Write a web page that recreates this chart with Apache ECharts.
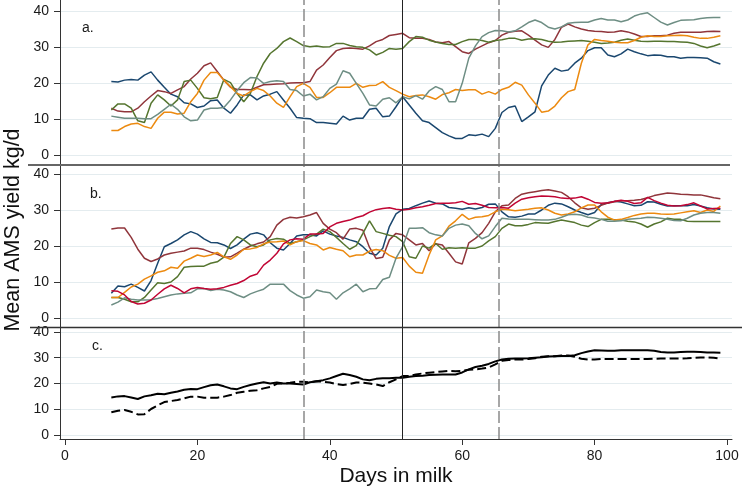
<!DOCTYPE html>
<html><head><meta charset="utf-8">
<script src="https://cdn.jsdelivr.net/npm/echarts@6/dist/echarts.min.js"></script>
<style>html,body{margin:0;padding:0;background:#fff}#c{width:744px;height:490px}</style>
</head><body><div id="c"></div>
<script>
const days = [7,8,9,10,11,12,13,14,15,16,17,18,19,20,21,22,23,24,25,26,27,28,29,30,31,32,33,34,35,36,37,38,39,40,41,42,43,44,45,46,47,48,49,50,51,52,53,54,55,56,57,58,59,60,61,62,63,64,65,66,67,68,69,70,71,72,73,74,75,76,77,78,79,80,81,82,83,84,85,86,87,88,89,90,91,92,93,94,95,96,97,98,99];
const xTickValues = [0,20,40,60,80,100];
const yTickValues = [0,10,20,30,40];
const panelLabels = ['a.','b.','c.'];
const vLinesDashed = [36, 65.5];
const vLineSolid = [51];
const xTitle = 'Days in milk';
const yTitle = 'Mean AMS yield kg/d';

// Panel a
const aNavy = [20.4,20.3,20.8,21.0,20.8,22.2,23.1,20.8,18.8,16.9,
16.2,14.5,14.2,13.2,13.6,15.1,15.3,13.0,11.6,13.9,
16.7,16.7,15.3,16.4,16.9,17.6,15.3,13.0,10.4,10.2,
10.1,9.0,9.0,8.8,8.6,10.8,9.7,10.2,10.2,12.7,
13.0,10.6,10.8,13.4,16.2,13.9,11.6,9.5,9.0,7.6,
6.2,5.3,4.6,4.6,5.6,5.4,5.8,5.1,7.4,11.8,
13.2,13.6,9.3,10.6,12.0,19.2,22.2,24.1,23.3,23.6,
25.5,26.9,29.0,29.8,29.8,27.8,27.3,28.1,29.4,28.7,
28.1,27.6,27.8,27.7,27.3,27.3,26.9,27.1,27.1,27.0,
26.9,25.9,25.3];
const aMaroon = [13.0,12.2,12.0,12.0,13.0,14.8,16.4,17.9,17.6,17.1,
18.1,19.0,21.1,22.7,24.8,25.6,23.2,20.8,18.8,18.2,
18.2,18.1,18.8,19.5,19.6,19.7,19.8,20.0,20.1,20.1,
20.4,23.6,25.0,27.1,29.0,29.6,29.7,29.6,29.4,30.3,
31.5,32.1,33.2,33.5,33.8,32.6,32.4,32.4,32.1,31.4,
31.2,31.5,30.1,28.7,28.2,29.4,30.3,31.2,31.8,33.3,
34.1,34.4,34.5,33.3,31.9,30.6,29.9,32.1,35.5,36.4,
35.6,35.0,34.6,34.4,34.3,34.1,34.2,34.5,34.2,33.6,
32.9,32.9,33.1,33.1,33.3,33.8,34.1,34.1,34.1,34.1,
34.3,34.4,34.3];
const aGreen = [12.5,14.2,14.2,13.0,9.5,9.0,14.4,16.7,15.3,13.6,
15.3,20.4,20.8,18.5,15.9,15.6,16.0,21.0,20.1,17.1,
14.8,17.1,21.8,25.5,28.2,29.6,31.5,32.5,31.5,30.4,
30.1,30.3,30.0,30.1,31.0,31.0,30.4,30.1,29.9,29.2,
27.8,28.5,29.6,29.4,29.6,31.5,32.9,32.7,31.9,31.4,
31.0,30.7,30.7,31.5,32.1,32.1,31.8,31.3,31.8,32.0,
32.4,32.4,31.9,32.2,32.3,32.1,31.6,31.3,31.4,31.6,
31.7,31.8,31.6,31.3,31.0,31.1,31.3,31.9,32.2,31.9,
31.6,31.5,31.6,31.6,31.5,31.5,31.4,31.3,31.0,30.3,
29.8,30.3,30.9];
const aOrange = [6.8,6.8,7.9,8.6,8.8,7.9,7.4,10.2,11.9,11.9,
11.4,11.6,14.8,17.1,20.8,22.9,22.9,20.8,19.0,17.1,
16.4,17.6,18.5,17.9,16.4,14.4,13.2,16.2,19.0,19.9,
18.8,16.0,16.0,17.3,18.8,18.8,18.8,19.9,18.8,19.3,
19.4,20.4,18.8,17.9,16.9,16.2,16.5,16.7,16.2,15.5,
16.8,17.3,18.2,17.9,18.1,18.1,16.9,17.6,16.9,18.2,
18.8,20.2,19.4,16.7,14.4,11.9,12.2,13.6,15.9,17.6,
18.2,25.5,30.6,32.1,31.8,31.6,31.3,31.2,31.2,31.8,
32.7,33.1,32.9,32.9,33.1,33.2,33.3,33.1,32.7,32.4,
32.4,32.7,33.1];
const aTeal = [10.8,10.5,10.2,10.2,10.2,10.1,10.1,11.3,12.7,14.1,
12.7,10.6,9.5,9.7,12.5,13.0,13.0,13.2,15.3,17.9,
20.1,21.5,21.4,19.9,20.4,20.6,20.4,18.2,17.9,16.4,
16.9,15.3,16.2,18.5,19.7,23.4,22.7,19.9,17.1,13.9,
13.6,15.5,15.9,14.5,16.2,15.6,16.5,15.5,17.8,19.0,
18.2,14.8,14.8,19.9,26.9,30.3,32.9,34.0,34.6,34.5,
34.2,34.5,35.6,36.8,37.5,36.8,35.5,35.0,35.6,36.6,
36.8,36.9,36.9,37.5,37.9,37.5,37.5,37.0,37.5,38.6,
39.2,39.5,38.2,36.9,36.1,36.8,37.4,37.5,37.6,37.9,
38.1,38.2,38.2];

// Panel b
const bNavy = [6.9,8.9,8.7,9.4,8.5,7.5,10.4,15.2,19.8,20.7,
21.7,23.1,24.0,23.3,22.0,21.0,20.9,20.3,19.3,20.3,
21.9,23.3,23.7,23.1,20.9,19.4,18.9,20.7,22.8,23.1,
23.1,22.8,24.2,23.3,22.8,22.4,21.7,21.2,19.8,18.0,
17.5,19.4,25.4,28.9,30.2,30.4,31.2,31.9,32.5,31.9,
31.7,30.7,30.5,30.2,30.6,30.3,30.7,31.6,31.7,29.5,
28.1,28.0,28.3,28.9,28.9,30.0,31.3,31.9,31.7,30.9,
30.0,29.3,28.7,29.3,31.5,32.0,32.4,32.2,31.7,31.2,
31.3,32.3,32.2,31.6,31.1,31.2,31.2,31.2,31.5,31.1,
30.6,30.3,30.2];
const bMaroon = [24.7,25.0,25.0,22.4,19.1,16.6,15.7,16.4,17.5,18.0,
18.3,18.6,19.4,19.4,19.0,18.3,17.7,16.9,17.0,18.0,
19.1,20.0,20.6,21.1,22.6,25.8,27.4,28.0,27.8,28.1,
28.6,29.3,26.3,24.7,23.7,21.9,24.7,24.9,24.4,19.6,
16.5,16.9,21.7,23.5,23.1,21.7,20.3,20.7,18.7,20.6,
20.3,18.0,15.6,15.0,20.9,22.1,23.7,26.3,29.5,31.2,
31.4,33.2,34.4,34.8,35.1,35.4,35.6,35.3,34.9,33.7,
32.0,30.6,30.2,30.5,31.3,31.9,32.3,32.6,32.6,32.7,
32.9,33.4,34.0,34.4,34.7,34.6,34.4,34.3,34.2,34.2,
33.8,33.4,33.1];
const bGreen = [5.7,5.7,5.2,4.5,4.5,5.7,7.8,9.8,9.6,10.0,
11.5,14.1,14.3,14.4,14.4,15.2,15.6,16.9,20.7,22.6,
21.7,20.3,19.8,20.3,21.7,22.1,21.9,20.7,21.2,21.7,
22.6,23.3,24.7,24.0,22.4,20.7,19.1,20.1,23.5,27.0,
24.0,23.5,23.0,22.6,21.2,17.0,16.6,20.0,19.4,20.7,
19.1,19.5,19.4,19.5,19.4,19.4,20.0,21.4,22.6,24.9,
26.1,25.6,25.6,26.0,26.5,26.4,26.3,26.8,27.2,26.9,
26.5,25.8,25.4,26.5,27.4,27.4,27.3,27.2,26.9,26.7,
26.1,25.2,26.1,26.7,27.7,27.4,27.4,26.9,26.8,26.8,
26.8,26.8,26.8];
const bOrange = [5.7,5.7,7.1,8.6,9.4,10.8,11.7,12.7,13.1,14.1,
13.8,15.8,16.6,17.5,17.1,17.5,18.2,17.0,16.3,17.5,
19.1,19.2,19.6,20.6,21.1,21.2,21.4,20.3,21.2,21.5,
20.7,20.3,18.9,19.6,19.1,18.7,17.0,17.5,17.5,18.6,
19.0,18.7,17.4,16.6,16.8,14.4,12.7,12.4,17.5,21.7,
22.8,25.5,27.0,28.8,27.4,28.0,28.1,28.5,29.5,30.2,
30.1,29.8,30.0,30.2,30.5,30.6,30.0,29.1,28.6,28.9,
29.5,30.6,31.4,31.4,29.5,28.0,27.2,27.4,27.9,28.5,
28.9,29.1,29.1,28.9,28.8,28.9,29.2,29.5,29.8,29.3,
30.0,29.6,31.1];
const bTeal = [3.6,4.4,5.6,5.2,5.0,5.0,5.1,5.4,5.9,6.4,
6.7,6.9,7.0,8.1,8.2,7.6,8.0,7.8,7.3,6.4,
5.7,6.7,7.4,8.0,9.4,9.4,9.4,7.6,6.4,5.5,
5.9,7.8,7.3,7.0,5.2,7.0,8.1,9.4,7.3,8.1,
8.2,10.7,11.3,16.6,19.8,24.9,24.9,25.1,23.7,23.1,
22.8,24.9,25.8,26.1,25.6,23.5,22.0,22.8,25.4,27.7,
27.5,27.4,27.4,27.4,27.3,27.2,27.2,27.4,28.0,28.7,
28.8,28.6,28.0,27.8,27.4,26.9,26.9,27.0,27.4,27.6,
27.7,28.0,27.9,27.7,27.4,27.1,27.0,27.7,28.6,29.1,
29.3,29.3,29.1];
const bCranberry = [7.6,7.4,6.4,4.6,3.9,4.1,5.0,6.6,8.1,9.1,
8.2,7.0,8.1,8.5,8.2,8.0,8.1,8.5,9.1,9.6,
10.4,11.6,12.2,14.7,16.1,18.0,20.6,21.7,22.0,21.9,
23.3,23.3,23.5,25.3,26.3,26.8,27.2,27.9,28.4,29.4,
30.1,30.4,30.6,30.2,30.0,30.2,30.6,30.9,31.3,31.8,
31.9,31.9,32.0,32.4,31.6,31.8,31.3,30.7,30.6,30.7,
30.5,31.9,33.0,33.4,33.7,33.9,33.8,33.7,33.3,33.2,
33.3,33.7,33.0,32.1,31.9,32.0,32.4,32.7,32.4,31.8,
32.0,33.5,32.6,31.9,31.3,31.1,31.2,31.5,32.0,31.1,
30.3,30.4,30.5];

// Panel c
const cSolid = [14.6,15.0,15.1,14.6,14.0,15.0,15.4,16.0,15.8,16.4,
16.9,17.6,17.9,17.8,18.6,19.3,19.6,18.9,18.1,17.8,
18.7,19.4,20.0,20.5,20.0,20.4,20.0,20.0,19.8,19.6,
20.5,20.9,21.3,22.0,22.9,23.8,23.3,22.6,21.6,21.3,
21.8,22.0,22.0,22.2,22.2,22.6,22.9,23.0,23.3,23.4,
23.5,23.5,23.5,24.3,25.5,26.4,26.9,27.6,28.6,29.3,
29.6,29.7,29.7,29.8,30.0,30.2,30.5,30.6,30.7,30.7,
31.0,31.8,32.4,32.9,32.8,32.7,32.7,32.9,32.9,32.9,
32.9,32.9,32.7,32.2,32.0,32.0,32.2,32.3,32.3,32.2,
32.0,32.0,31.9];
const cDashed = [8.8,9.4,9.7,9.0,8.0,8.1,10.1,11.5,12.8,13.2,
13.6,14.2,14.9,14.9,14.5,14.5,14.5,14.9,15.5,16.4,
16.8,17.2,17.4,18.1,18.7,19.9,20.0,20.3,20.7,20.7,
20.4,20.9,20.7,20.4,19.8,19.4,19.8,20.4,20.3,20.0,
19.6,19.0,20.5,21.6,22.9,22.9,23.5,23.9,24.2,24.4,
24.7,24.9,24.8,24.9,25.3,25.5,25.8,26.2,27.4,28.8,
29.1,29.3,29.3,29.5,29.8,30.4,30.6,30.6,30.9,30.9,
30.4,29.6,29.3,29.3,29.5,29.5,29.5,29.5,29.5,29.5,
29.5,29.5,29.6,29.7,29.7,29.7,29.7,29.8,30.0,30.1,
30.1,30.0,29.7];

const C = {navy:'#1a476f', maroon:'#90353b', green:'#55752f', orange:'#ec8a10', teal:'#6e8e84', cranberry:'#c10534'};
const FONT = '"Liberation Sans", Arial, sans-serif';

const panelA = [[aNavy,C.navy],[aMaroon,C.maroon],[aGreen,C.green],[aOrange,C.orange],[aTeal,C.teal]];
const panelB = [[bNavy,C.navy],[bMaroon,C.maroon],[bGreen,C.green],[bOrange,C.orange],[bTeal,C.teal],[bCranberry,C.cranberry]];

const grids = [
  {left:60, right:12, top:0, height:165},
  {left:60, right:12, top:165, height:162},
  {left:60, right:12, top:327, height:112}
];
const yRanges = [[-2.78, 43.06], [-2.5, 42.5], [-1.55, 41.94]];

function pairs(arr){ return days.map((d,i)=>[d, arr[i]]); }

function markLines(){
  return {
    silent:true, symbol:'none', label:{show:false}, animation:false,
    data: [
      ...vLinesDashed.map(v=>({xAxis:v, lineStyle:{type:[12,4], color:'#8a8a8a', width:1.5}})),
      ...vLineSolid.map(v=>({xAxis:v, lineStyle:{type:'solid', color:'#222', width:1}}))
    ]
  };
}

const series = [];
panelA.forEach(([arr,col],i)=>{
  series.push({type:'line', xAxisIndex:0, yAxisIndex:0, data:pairs(arr), showSymbol:false, symbol:'none',
    lineStyle:{color:col, width:1.5}, itemStyle:{color:col}, animation:false, markLine: i===0?markLines():undefined});
});
panelB.forEach(([arr,col],i)=>{
  series.push({type:'line', xAxisIndex:1, yAxisIndex:1, data:pairs(arr), showSymbol:false, symbol:'none',
    lineStyle:{color:col, width:1.5}, itemStyle:{color:col}, animation:false, markLine: i===0?markLines():undefined});
});
series.push({type:'line', xAxisIndex:2, yAxisIndex:2, data:pairs(cSolid), showSymbol:false, symbol:'none',
  lineStyle:{color:'#000', width:2}, animation:false, markLine: markLines()});
series.push({type:'line', xAxisIndex:2, yAxisIndex:2, data:pairs(cDashed), showSymbol:false, symbol:'none',
  lineStyle:{color:'#000', width:2, type:[9,4]}, animation:false});

const xAxes = grids.map((g,i)=>({
  type:'value', gridIndex:i, min:-0.755, max:100.755, show: i===2,
  axisLine:{show:true, onZero:false, lineStyle:{color:'#333', width:1}},
  axisTick:{show:true, customValues:xTickValues, length:6, lineStyle:{color:'#333'}},
  axisLabel:{customValues:xTickValues, fontSize:14, color:'#1a1a1a', fontFamily:FONT, margin:10},
  splitLine:{show:false}
}));
const yAxes = grids.map((g,i)=>({
  type:'value', gridIndex:i, min:yRanges[i][0], max:yRanges[i][1],
  axisLine:{show:true, onZero:false, lineStyle:{color:'#333', width:1}},
  axisTick:{show:true, customValues:yTickValues, length:6, lineStyle:{color:'#333'}},
  axisLabel:{customValues:yTickValues, fontSize:14, color:'#1a1a1a', fontFamily:FONT, margin:11},
  splitLine:{show:true, lineStyle:{color:'#e4ecef', width:1}}
}));

const chart = echarts.init(document.getElementById('c'));
chart.setOption({
  backgroundColor:'#fff',
  animation:false,
  grid: grids,
  xAxis: xAxes,
  yAxis: yAxes,
  series: series,
  graphic: [
    {type:'line', z:100, shape:{x1:28, y1:165, x2:730, y2:165}, style:{stroke:'#666', lineWidth:2}},
    {type:'line', z:100, shape:{x1:30, y1:327.5, x2:742, y2:327.5}, style:{stroke:'#333', lineWidth:1.5}},
    {type:'text', z:100, x:82, y:28, style:{text:panelLabels[0], font:'14px '+FONT, fill:'#1a1a1a', textVerticalAlign:'middle'}},
    {type:'text', z:100, x:90, y:194, style:{text:panelLabels[1], font:'14px '+FONT, fill:'#1a1a1a', textVerticalAlign:'middle'}},
    {type:'text', z:100, x:92, y:346, style:{text:panelLabels[2], font:'14px '+FONT, fill:'#1a1a1a', textVerticalAlign:'middle'}},
    {type:'text', z:100, x:396, y:476, style:{text:xTitle, font:'21px '+FONT, fill:'#111', textAlign:'center', textVerticalAlign:'middle'}},
    {type:'text', z:100, x:13, y:230, rotation:Math.PI/2, style:{text:yTitle, font:'21.5px '+FONT, fill:'#111', textAlign:'center', textVerticalAlign:'middle'}}
  ]
});
</script></body></html>
